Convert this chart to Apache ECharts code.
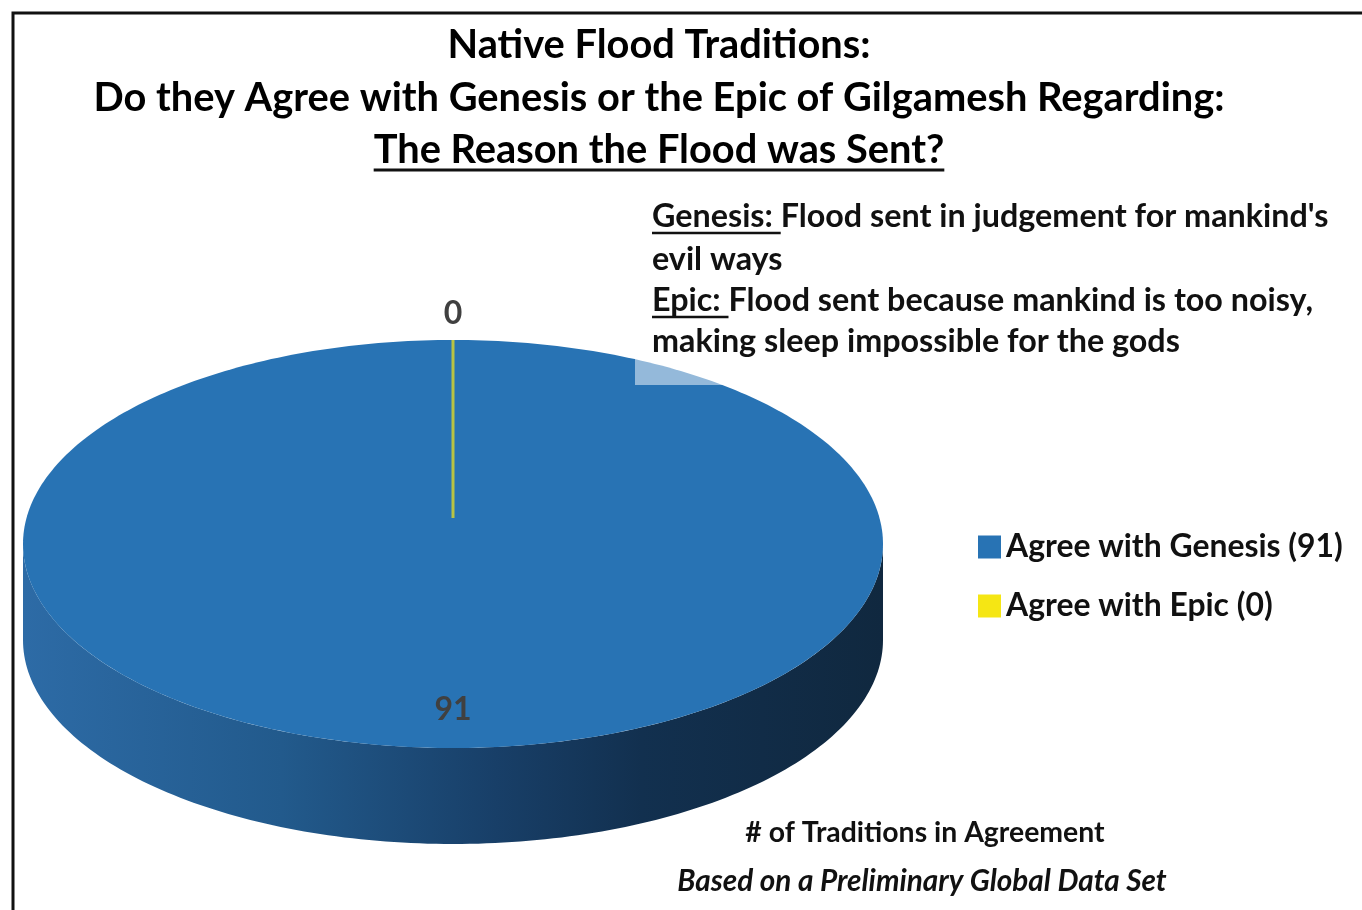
<!DOCTYPE html>
<html><head><meta charset="utf-8">
<script src="https://cdn.jsdelivr.net/npm/echarts/dist/echarts.min.js"></script>
<style>html,body{margin:0;padding:0;background:#fff}#main{width:1362px;height:910px}</style>
</head><body><div id="main"></div>
<script>
// ---- data ----
const categories = ['Agree with Genesis', 'Agree with Epic'];
const values = [91, 0];
const colors = ['#2873b4', '#f5e614'];
const titleLines = ['Native Flood Traditions:', 'Do they Agree with Genesis or the Epic of Gilgamesh Regarding:', 'The Reason the Flood was Sent?'];
const noteLines = ["Genesis: Flood sent in judgement for mankind's", 'evil ways', 'Epic: Flood sent because mankind is too noisy,', 'making sleep impossible for the gods'];
const noteUnderlined = ['Genesis: ', '', 'Epic: ', ''];
const footerLines = ['# of Traditions in Agreement', 'Based on a Preliminary Global Data Set'];

// ---- layout / style ----
const FAMILY = 'Lato, "Open Sans", sans-serif';
const CX = 453, CY = 544, RX = 430, RY = 204, DEPTH = 96, CENTER_DY = -26;
const ctx = document.createElement('canvas').getContext('2d');
function fit(text, weight, style, target) {
  ctx.font = style + ' ' + weight + ' 100px ' + FAMILY;
  return 100 * target / ctx.measureText(text).width;
}
function textW(text, font) { ctx.font = font; return ctx.measureText(text).width; }
const titleSize = fit(titleLines[1], 'bold', 'normal', 1132);
const noteSize = fit(noteLines[0], 'bold', 'normal', 676);
const legendSize = fit(categories[0] + ' (' + values[0] + ')', 'bold', 'normal', 337);
const footSize = fit(footerLines[0], 'bold', 'normal', 360);
const footSize2 = fit(footerLines[1], 'bold', 'italic', 490);
const titleFont = 'bold ' + titleSize.toFixed(1) + 'px ' + FAMILY;
const noteFont = 'bold ' + noteSize.toFixed(1) + 'px ' + FAMILY;

const total = values.reduce((a, b) => a + b, 0);
const sideGradient = {
  type: 'linear', x: 0, y: 0, x2: 1, y2: 0,
  colorStops: [
    { offset: 0, color: '#2d6ba6' }, { offset: 0.3, color: '#225a8c' },
    { offset: 0.55, color: '#183f68' }, { offset: 0.72, color: '#12304f' },
    { offset: 1, color: '#10283f' }
  ]
};
function P(t, k, dy) { return [CX + RX * k * Math.cos(t), CY + RY * k * Math.sin(t) + (dy || 0)]; }

function renderItem(params, api) {
  const i = params.dataIndex;
  let cum = 0;
  for (let k = 0; k < i; k++) cum += values[k];
  const v = api.value(0);
  const a0 = -Math.PI / 2 + 2 * Math.PI * cum / total;
  const a1 = a0 + 2 * Math.PI * v / total;
  const children = [];
  const col = colors[i];
  for (let k = -1; k <= 1; k++) {
    const s = Math.max(a0, 2 * Math.PI * k), e = Math.min(a1, 2 * Math.PI * k + Math.PI);
    if (e > s) {
      const pts = [], n = 160;
      for (let j = 0; j <= n; j++) pts.push(P(s + (e - s) * j / n, 1));
      for (let j = n; j >= 0; j--) pts.push(P(s + (e - s) * j / n, 1, DEPTH));
      children.push({ type: 'polygon', shape: { points: pts }, style: { fill: sideGradient } });
    }
  }
  const mid = (a0 + a1) / 2;
  let lp;
  if (v > 0) {
    const pts = [];
    if (v < total) pts.push([CX, CY + CENTER_DY]);
    const n = 360;
    for (let j = 0; j <= n; j++) pts.push(P(a0 + (a1 - a0) * j / n, 1));
    children.push({ type: 'polygon', shape: { points: pts }, style: { fill: col } });
    lp = P(mid, 0.81);
  } else {
    const end = P(a0, 1);
    children.push({ type: 'line', shape: { x1: CX, y1: CY + CENTER_DY, x2: end[0], y2: end[1] },
      style: { stroke: col, lineWidth: 3, opacity: 0.7 } });
    lp = P(mid, 1.13);
  }
  children.push({ type: 'text', style: { x: lp[0], y: lp[1], text: String(v), align: 'center', verticalAlign: 'middle',
    font: 'bold 32px ' + FAMILY, fill: '#404040' } });
  return { type: 'group', children: children };
}

const graphics = [];
graphics.push({ type: 'rect', shape: { x: 13, y: 13, width: 1420, height: 1000 }, style: { fill: 'none', stroke: '#111', lineWidth: 3 }, z: 200 });
const titleY = [45, 98, 150];
titleLines.forEach((t, i) => {
  graphics.push({ type: 'text', z: 100, style: { x: 659, y: titleY[i], text: t, align: 'center', verticalAlign: 'middle', font: titleFont, fill: '#000' } });
});
const tw3 = textW(titleLines[2], titleFont);
graphics.push({ type: 'line', z: 100, shape: { x1: 659 - tw3 / 2, y1: 170, x2: 659 + tw3 / 2, y2: 170 }, style: { stroke: '#111', lineWidth: 3 } });
// text box with semi-transparent fill
graphics.push({ type: 'rect', z: 90, shape: { x: 635, y: 196, width: 705, height: 189 }, style: { fill: 'rgba(255,255,255,0.5)' } });
const noteY = [217, 260, 301, 342];
noteLines.forEach((t, i) => {
  graphics.push({ type: 'text', z: 100, style: { x: 652, y: noteY[i], text: t, align: 'left', verticalAlign: 'middle', font: noteFont, fill: '#111' } });
  if (noteUnderlined[i]) {
    const w = textW(noteUnderlined[i], noteFont);
    graphics.push({ type: 'line', z: 100, shape: { x1: 652, y1: noteY[i] + 16, x2: 652 + w, y2: noteY[i] + 16 }, style: { stroke: '#111', lineWidth: 2.5 } });
  }
});
graphics.push({ type: 'text', z: 100, style: { x: 925, y: 833, text: footerLines[0], align: 'center', verticalAlign: 'middle', font: 'bold ' + footSize.toFixed(1) + 'px ' + FAMILY, fill: '#111' } });
graphics.push({ type: 'text', z: 100, style: { x: 922, y: 881, text: footerLines[1], align: 'center', verticalAlign: 'middle', font: 'italic bold ' + footSize2.toFixed(1) + 'px ' + FAMILY, fill: '#111' } });

const chart = echarts.init(document.getElementById('main'), null, { renderer: 'canvas' });
chart.setOption({
  animation: false,
  backgroundColor: '#fff',
  color: colors,
  legend: {
    data: categories.map(c => ({ name: c, icon: 'rect' })),
    orient: 'vertical', left: 978, top: 531, padding: 0, itemWidth: 23, itemHeight: 23, itemGap: 27,
    formatter: name => name + ' (' + values[categories.indexOf(name)] + ')',
    textStyle: { fontFamily: FAMILY, fontWeight: 'bold', fontSize: legendSize, color: '#111', lineHeight: 30 },
    selectedMode: false
  },
  graphic: graphics,
  series: [
    { type: 'pie', name: 'legendProxy', radius: [0, 0], center: [CX, CY], silent: true,
      label: { show: false }, labelLine: { show: false },
      data: categories.map((c, i) => ({ name: c, value: values[i], itemStyle: { color: colors[i] } })) },
    { type: 'custom', name: 'traditions', coordinateSystem: 'none', renderItem: renderItem, data: values, silent: true }
  ]
});
</script></body></html>
